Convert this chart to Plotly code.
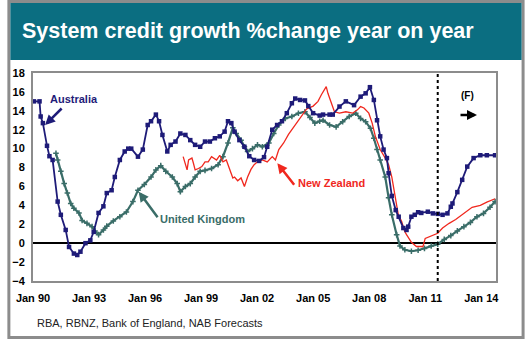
import plotly.graph_objects as go

# ---------------- data (decimal years, % change y/y) ----------------
aus_x = [1990.05, 1990.35, 1990.41, 1990.53, 1990.75, 1990.88, 1991.05, 1991.32, 1991.49, 1991.75,
         1991.93, 1992.19, 1992.37, 1992.54, 1992.81, 1993.07, 1993.25, 1993.51, 1993.77, 1993.95,
         1994.21, 1994.38, 1994.65, 1994.91, 1995.10, 1995.26, 1995.62, 1995.88, 1996.14, 1996.32,
         1996.58, 1996.75, 1996.93, 1997.19, 1997.37, 1997.63, 1997.89, 1998.16, 1998.42, 1998.68,
         1998.95, 1999.21, 1999.47, 1999.74, 2000.00, 2000.26, 2000.44, 2000.62, 2000.79, 2001.05,
         2001.32, 2001.58, 2001.84, 2002.11, 2002.37, 2002.54, 2002.81, 2003.07, 2003.33, 2003.59,
         2003.86, 2004.04, 2004.30, 2004.56, 2004.74, 2005.00, 2005.35, 2005.53, 2005.88, 2006.05,
         2006.41, 2006.75, 2007.19, 2007.54, 2007.81, 2008.04, 2008.25, 2008.42, 2008.59, 2008.77,
         2008.95, 2009.04, 2009.21, 2009.42, 2009.58, 2009.83, 2010.00, 2010.09, 2010.26, 2010.44,
         2010.62, 2010.79, 2011.14, 2011.41, 2011.67, 2011.93, 2012.19, 2012.37, 2012.46, 2012.72,
         2012.98, 2013.25, 2013.59, 2013.95, 2014.30, 2014.74]
aus_y = [15.0, 15.0, 13.4, 12.7, 10.3, 9.2, 8.8, 4.4, 3.0, 1.4,
         -0.4, -1.1, -1.25, -0.9, 0.0, 0.3, 1.2, 3.2, 3.9, 5.3,
         5.6, 7.0, 8.8, 9.7, 10.0, 10.0, 9.15, 9.9, 12.5, 12.9,
         13.6, 12.9, 11.45, 9.7, 10.4, 10.75, 11.6, 11.45, 10.9, 10.4,
         10.2, 10.75, 10.75, 11.1, 11.3, 11.8, 12.9, 12.7, 11.8, 10.9,
         10.2, 9.2, 8.8, 8.7, 9.1, 10.2, 12.0, 12.5, 12.9, 13.75,
         14.8, 15.3, 15.15, 15.1, 14.5, 13.75, 13.5, 13.6, 13.6, 13.6,
         14.45, 15.0, 14.6, 15.5, 15.85, 16.5, 15.15, 13.0, 11.3, 9.9,
         9.0, 7.4, 5.0, 3.5, 2.8, 1.6, 1.4, 1.75, 2.8, 3.0,
         3.27, 3.2, 3.33, 3.15, 3.1, 3.0, 3.15, 3.85, 4.2, 5.4,
         6.7, 8.1, 9.0, 9.3, 9.3, 9.3]

uk_x = [1991.23, 1991.32, 1991.49, 1991.67, 1991.84, 1992.02, 1992.19, 1992.46, 1992.63, 1992.89,
        1993.16, 1993.32, 1993.51, 1993.77, 1993.95, 1994.30, 1994.65, 1995.00, 1995.35, 1995.62,
        1995.96, 1996.32, 1996.58, 1996.84, 1997.11, 1997.46, 1997.72, 1997.89, 1998.16, 1998.42,
        1998.68, 1998.95, 1999.21, 1999.56, 1999.91, 2000.17, 2000.44, 2000.70, 2000.88, 2001.14,
        2001.32, 2001.49, 2001.75, 2002.02, 2002.28, 2002.63, 2002.89, 2003.16, 2003.51, 2003.86,
        2004.21, 2004.56, 2004.83, 2005.09, 2005.35, 2005.53, 2005.88, 2006.23, 2006.58, 2006.93,
        2007.28, 2007.54, 2007.81, 2008.07, 2008.25, 2008.42, 2008.59, 2008.86, 2009.04, 2009.21,
        2009.47, 2009.65, 2009.91, 2010.26, 2010.62, 2010.96, 2011.32, 2011.67, 2012.02, 2012.37,
        2012.72, 2013.07, 2013.42, 2013.77, 2014.12, 2014.47, 2014.74]
uk_y = [9.5, 8.8, 7.6, 6.3, 5.3, 4.2, 3.7, 3.2, 2.4, 2.1,
        1.75, 1.3, 0.9, 1.4, 1.8, 2.35, 2.8, 3.3, 4.4, 5.6,
        6.2, 7.0, 7.75, 8.2, 7.6, 7.0, 6.3, 5.45, 6.0, 6.3,
        7.0, 7.6, 7.7, 7.9, 8.3, 9.15, 10.6, 12.2, 11.6, 10.9,
        10.2, 9.7, 10.0, 10.4, 10.2, 10.6, 11.6, 12.5, 13.2, 13.4,
        13.75, 13.9, 13.3, 12.7, 12.9, 13.0, 12.5, 12.3, 12.85, 13.4,
        13.75, 13.2, 12.85, 12.15, 11.1, 9.9, 8.8, 7.0, 4.8, 3.0,
        0.9, -0.3, -0.7, -0.85, -0.75, -0.55, -0.3, -0.1, 0.4, 0.8,
        1.3, 1.75, 2.2, 2.8, 3.15, 3.8, 4.4]

nz_x = [1998.04, 1998.16, 1998.25, 1998.33, 1998.51, 1998.59, 1998.68, 1998.86, 1999.04, 1999.21,
        1999.38, 1999.56, 1999.83, 2000.00, 2000.17, 2000.35, 2000.53, 2000.70, 2000.79, 2000.96,
        2001.14, 2001.32, 2001.49, 2001.67, 2001.84, 2002.02, 2002.28, 2002.54, 2002.81, 2002.98,
        2003.16, 2003.42, 2003.68, 2003.86, 2004.12, 2004.38, 2004.65, 2005.00, 2005.26, 2005.44,
        2005.62, 2005.70, 2005.79, 2005.96, 2006.14, 2006.41, 2006.75, 2007.11, 2007.37, 2007.54,
        2007.72, 2007.98, 2008.16, 2008.33, 2008.59, 2008.86, 2009.04, 2009.21, 2009.37, 2009.56,
        2009.74, 2009.91, 2010.00, 2010.26, 2010.53, 2010.88, 2011.00, 2011.23, 2011.67, 2011.93,
        2012.28, 2012.63, 2013.07, 2013.51, 2013.95, 2014.30, 2014.74]
nz_y = [9.15, 8.45, 7.75, 8.8, 9.0, 8.45, 7.75, 7.9, 8.1, 8.6,
        8.6, 9.15, 8.8, 9.3, 8.6, 8.8, 7.75, 6.9, 7.0, 6.6,
        6.9, 6.0, 7.0, 7.8, 8.3, 8.6, 8.8, 8.6, 9.15, 8.8,
        9.9, 10.6, 11.5, 12.0, 12.7, 13.5, 14.2, 14.5, 15.0, 15.7,
        16.4, 16.55, 15.85, 14.8, 13.9, 13.75, 13.9, 13.75, 14.1, 14.45,
        14.3, 13.75, 12.7, 11.3, 9.9, 9.0, 8.3, 7.0, 5.2, 3.0,
        2.3, 1.2, 0.9, 0.1, -0.35, -0.35, 0.5, 0.7, 1.05, 1.6,
        2.1, 2.5, 3.2, 3.8, 4.0, 4.35, 4.7]

tick_years = [1990, 1993, 1996, 1999, 2002, 2005, 2008, 2011, 2014]
tick_text = ["Jan 90", "Jan 93", "Jan 96", "Jan 99", "Jan 02", "Jan 05", "Jan 08", "Jan 11", "Jan 14"]
y_ticks = list(range(-4, 19, 2))
forecast_start = 2011.67

# ---------------- style ----------------
AUS = "#1e1b78"
UK = "#3a6d68"
NZ = "#f0281e"
TEAL = "#0b6e81"
GREY = "#8c8c8c"
FONT = "Liberation Sans, Arial, sans-serif"

fig = go.Figure()
fig.add_trace(go.Scatter(x=uk_x, y=uk_y, mode="lines+markers", name="United Kingdom",
                         line=dict(color=UK, width=2.2),
                         marker=dict(symbol="cross-thin", size=4, color=UK,
                                     line=dict(color=UK, width=1.5))))
fig.add_trace(go.Scatter(x=nz_x, y=nz_y, mode="lines", name="New Zealand",
                         line=dict(color=NZ, width=1.3)))
fig.add_trace(go.Scatter(x=aus_x, y=aus_y, mode="lines+markers", name="Australia",
                         line=dict(color=AUS, width=1.8),
                         marker=dict(symbol="square", size=4.5, color=AUS)))

shapes = [
    # outer frame
    dict(type="rect", xref="paper", yref="paper", x0=-0.0521, x1=1.0585, y0=-0.2716, y1=1.3438,
         line=dict(color=GREY, width=3), fillcolor="rgba(0,0,0,0)", layer="below"),
    # title band
    dict(type="rect", xref="paper", yref="paper", x0=-0.0489, x1=1.0553, y0=1.0625, y1=1.3365,
         line=dict(width=0), fillcolor=TEAL, layer="below"),
    # forecast divider
    dict(type="line", xref="x", yref="paper", x0=forecast_start, x1=forecast_start, y0=0, y1=1,
         line=dict(color="black", width=2, dash="dot")),
]

def label(x, y, text, color, size=11):
    return dict(xref="paper", yref="paper", x=x, y=y, xanchor="center", yanchor="middle",
                text=text, showarrow=False,
                font=dict(family=FONT, size=size, color=color, weight="bold"))

def pointer(x, y, ax, ay, color):
    return dict(xref="paper", yref="paper", x=x, y=y, ax=ax, ay=ay, text="", showarrow=True,
                arrowhead=2, arrowsize=0.8, arrowwidth=2.5, arrowcolor=color)

annotations = [
    dict(xref="paper", yref="paper", x=-0.0275, y=1.202, xanchor="left", yanchor="middle",
         text="System credit growth %change year on year", showarrow=False,
         font=dict(family=FONT, size=21.5, color="white", weight="bold")),
    dict(xref="paper", yref="paper", x=0.0043, y=-0.2019, xanchor="left", yanchor="middle",
         text="RBA, RBNZ, Bank of England, NAB Forecasts", showarrow=False,
         font=dict(family=FONT, size=11, color="#222222")),
    label(0.088, 0.875, "Australia", AUS),
    label(0.366, 0.298, "United Kingdom", UK),
    label(0.6457, 0.471, "New Zealand", NZ),
    label(0.938, 0.894, "(F)", "black", 10),
    pointer(0.0262, 0.75, 18, -18, AUS),
    pointer(0.2283, 0.4293, 20, 27, UK),
    pointer(0.5277, 0.5659, 18, 23, NZ),
    pointer(0.959, 0.798, -18, 0, "black"),
]

fig.update_layout(
    width=525, height=339,
    margin=dict(l=26, r=29, t=73, b=58),
    paper_bgcolor="white", plot_bgcolor="white",
    showlegend=False,
    shapes=shapes, annotations=annotations,
    font=dict(family=FONT),
)
fig.update_xaxes(range=[1990, 2014.79], tickvals=tick_years, ticktext=tick_text,
                 showgrid=False, zeroline=False, ticks="", ticklabelstandoff=6,
                 showline=True, mirror=True, linecolor=GREY, linewidth=2,
                 tickfont=dict(family=FONT, size=11, color="black", weight="bold"))
fig.update_yaxes(range=[-4, 18], tickvals=y_ticks, showgrid=False,
                 zeroline=True, zerolinecolor="black", zerolinewidth=2,
                 ticks="", ticklabelstandoff=4,
                 showline=True, mirror=True, linecolor=GREY, linewidth=2,
                 tickfont=dict(family=FONT, size=11, color="black", weight="bold"))

fig.write_html("out.html")
